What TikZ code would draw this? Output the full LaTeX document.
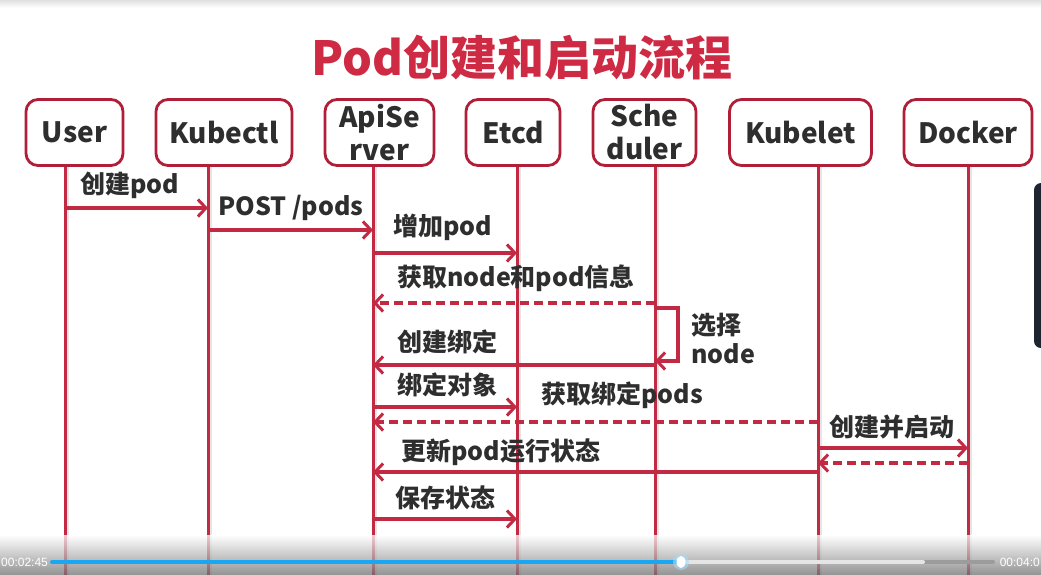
\documentclass[tikz,border=0pt]{standalone}
\usepackage{fontspec}
\setmainfont{Noto Sans CJK SC}
\newfontfamily\uifont{Liberation Sans}
\usetikzlibrary{arrows.meta}
\definecolor{linered}{HTML}{C22943}
\definecolor{boxred}{HTML}{B01E38}
\definecolor{titlered}{HTML}{CF2A43}
\definecolor{txt}{HTML}{2E2E2E}
\definecolor{barblue}{HTML}{19A6F2}
\definecolor{tabdark}{HTML}{1F2530}
\begin{document}
\begin{tikzpicture}[x=1pt,y=-1pt,
  actor/.style={draw=boxred, line width=2.8pt, fill=white, rounded corners=12pt,
    inner sep=0pt, minimum height=66pt, font=\fontsize{28}{33}\selectfont\bfseries,
    text=txt, align=center},
  life/.style={draw=linered, line width=3pt},
  lifeshadow/.style={draw=black!10, line width=2pt},
  msg/.style={draw=linered, line width=3.2pt,
    -{Straight Barb[length=8pt,width=17pt,line width=3pt]}},
  reply/.style={msg, dash pattern=on 9pt off 5pt},
  lbl/.style={anchor=west, inner sep=0pt, font=\fontsize{25}{29}\selectfont\bfseries, text=txt, align=left},
  timelbl/.style={inner sep=0pt, font=\uifont\fontsize{12}{12}\selectfont, text=white},
]
\useasboundingbox (0,0) rectangle (1041,574);
\fill[white] (0,0) rectangle (1041,574);
\shade[top color=black!12, bottom color=white] (0,0) rectangle (1041,8);

% title
\node[inner sep=0pt, text=titlered, font=\fontsize{47}{48}\selectfont\bfseries] (title) at (522,58) {Pod创建和启动流程};

% lifeline top coordinates
\coordinate (lUser)  at (65,167);
\coordinate (lKube)  at (208,167);
\coordinate (lApi)   at (373,167);
\coordinate (lEtcd)  at (517,167);
\coordinate (lSched) at (655,167);
\coordinate (lLet)   at (818,167);
\coordinate (lDock)  at (968,167);

% lifelines (with faint shadow)
\foreach \c in {lUser,lKube,lApi,lEtcd,lSched,lLet,lDock}{
  \draw[lifeshadow] ([xshift=3pt]\c) -- ([xshift=3pt]\c |- 0,580);
  \draw[life] (\c) -- (\c |- 0,580);
}

% actor boxes
\node[actor, minimum width=97pt]  (user)  at (74.5,132.5) {User};
\node[actor, minimum width=136pt] (kube)  at (224,132.5) {Kubectl};
\node[actor, minimum width=109pt] (api)   at (379.5,132.5) {ApiSe\\rver};
\node[actor, minimum width=94pt]  (etcd)  at (513,132.5) {Etcd};
\node[actor, minimum width=103pt] (sched) at (644.5,132.5) {Sche\\duler};
\node[actor, minimum width=142pt] (let)   at (800.5,132.5) {Kubelet};
\node[actor, minimum width=128pt] (dock)  at (968,132.5) {Docker};

% messages
\draw[msg] (lUser |- 0,208) -- (lKube |- 0,208);
\node[lbl] (t1) at (80,185) {创建pod};

\draw[msg] (lKube |- 0,230) -- (lApi |- 0,230);
\node[lbl] (t2) at (218,208) {POST /pods};

\draw[msg] (lApi |- 0,253) -- (lEtcd |- 0,253);
\node[lbl] (t3) at (393,227) {增加pod};

\draw[reply] (lSched |- 0,303) -- (lApi |- 0,303);
\node[lbl] (t4) at (397,278) {获取node和pod信息};

\coordinate (loopA) at (678,308);
\coordinate (loopB) at (678,361);
\draw[msg] (lSched |- 0,308) -- (loopA) -- (loopB) -- (lSched |- 0,361);
\node[lbl] (t5) at (691,338) {选择\\node};

\draw[msg] (lSched |- 0,365) -- (lApi |- 0,365);
\node[lbl] (t6) at (397,342) {创建绑定};

\draw[msg] (lApi |- 0,407) -- (lEtcd |- 0,407);
\node[lbl] (t7) at (397,385) {绑定对象};

\draw[reply] (lLet |- 0,422) -- (lApi |- 0,422);
\node[lbl] (t8) at (541,395) {获取绑定pods};

\draw[msg] (lLet |- 0,448) -- (lDock |- 0,448);
\node[lbl] (t9) at (829,427) {创建并启动};

\draw[reply] (lDock |- 0,463) -- (lLet |- 0,463);

\draw[msg] (lLet |- 0,472) -- (lApi |- 0,472);
\node[lbl] (t10) at (401,452) {更新pod运行状态};

\draw[msg] (lApi |- 0,519) -- (lEtcd |- 0,519);
\node[lbl] (t11) at (395,498) {保存状态};

% right dark tab
\fill[tabdark, rounded corners=7pt] (1034,183) rectangle (1050,348);

% video player overlay
\shade[top color=white, bottom color=black!55, opacity=0.75] (0,535) rectangle (1041,574);
\draw[line width=4pt, black!30!gray!60, line cap=round] (923,562) -- (993,562);
\draw[line width=4pt, black!10, line cap=round] (681,562) -- (923,562);
\draw[line width=4pt, barblue, line cap=round] (52,562) -- (681,562);
\fill[barblue!40, opacity=0.6] (681,562) circle (8pt);
\fill[white] (681,562) ellipse (4.5pt and 6pt);
\node[timelbl, anchor=west] (tStart) at (1,562) {00:02:45};
\node[timelbl, anchor=east] (tEnd) at (1040,562) {00:04:0};
\end{tikzpicture}
\end{document}
